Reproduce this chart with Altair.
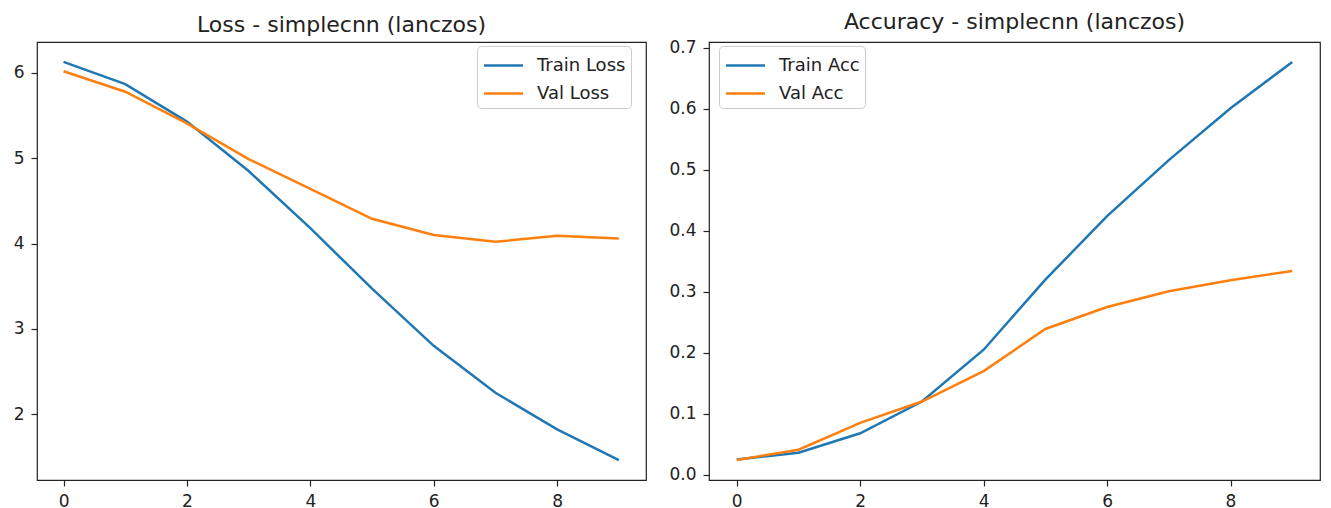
import altair as alt
import pandas as pd

epochs = list(range(10))
train_loss = [6.13, 5.87, 5.43, 4.85, 4.18, 3.47, 2.80, 2.25, 1.82, 1.46]
val_loss = [6.02, 5.78, 5.41, 4.99, 4.64, 4.29, 4.10, 4.02, 4.09, 4.06]
train_acc = [0.025, 0.036, 0.068, 0.120, 0.205, 0.320, 0.424, 0.516, 0.601, 0.677]
val_acc = [0.024, 0.041, 0.085, 0.120, 0.170, 0.239, 0.275, 0.301, 0.319, 0.334]

loss_names = ["Train Loss", "Val Loss"]
acc_names = ["Train Acc", "Val Acc"]
colors = ["#1f77b4", "#ff7f0e"]
x_ticks = [0, 2, 4, 6, 8]
loss_ticks = [2, 3, 4, 5, 6]
acc_ticks = [0.0, 0.1, 0.2, 0.3, 0.4, 0.5, 0.6, 0.7]

loss_df = pd.DataFrame({
    "epoch": epochs * 2,
    "value": train_loss + val_loss,
    "series": [loss_names[0]] * 10 + [loss_names[1]] * 10,
})
acc_df = pd.DataFrame({
    "epoch": epochs * 2,
    "value": train_acc + val_acc,
    "series": [acc_names[0]] * 10 + [acc_names[1]] * 10,
})

H = 438
FONT = "DejaVu Sans"


def legend(x, y):
    return alt.Legend(
        title=None, orient="none", legendX=x, legendY=y,
        symbolType="M-1.5,0H1.5", symbolSize=676, symbolStrokeWidth=2.5,
        symbolOffset=7,
        labelFontSize=18, labelFont=FONT, labelColor="#222222",
        fillColor="rgba(255,255,255,0.8)", strokeColor="#cccccc",
        cornerRadius=4, padding=5, rowPadding=4, labelOffset=19,
    )


def panel(df, names, title, width, xdomain, yticks, ydomain, yfmt, leg):
    return alt.Chart(df, title=alt.TitleParams(
        title, fontSize=22, font=FONT, fontWeight="normal", color="#222222",
        offset=5, anchor="middle")).mark_line(strokeWidth=2.5).encode(
        x=alt.X("epoch:Q", scale=alt.Scale(domain=xdomain, nice=False, zero=False),
                axis=alt.Axis(values=x_ticks, title=None, format="d")),
        y=alt.Y("value:Q", scale=alt.Scale(domain=ydomain, nice=False, zero=False),
                axis=alt.Axis(values=yticks, title=None, format=yfmt)),
        color=alt.Color("series:N", scale=alt.Scale(domain=names, range=colors),
                        legend=leg),
    ).properties(width=width, height=H)


left = panel(loss_df, loss_names, "Loss - simplecnn (lanczos)", 609, [-0.43, 9.44],
             loss_ticks, [1.2265, 6.3635], "d", legend(440, 4))
right = panel(acc_df, acc_names, "Accuracy - simplecnn (lanczos)", 611, [-0.45, 9.45],
              acc_ticks, [-0.00865, 0.70965], ".1f", legend(10, 4))

chart = alt.hconcat(left, right, spacing=21).resolve_scale(color="independent").properties(
    padding={"left": 12, "top": 10, "right": 0, "bottom": 0},
    background="white",
).configure_view(stroke="#222222", strokeWidth=1.2).configure_axis(
    grid=False, domain=False, tickColor="#222222", tickSize=6, tickWidth=1.2,
    labelFont=FONT, labelFontSize=17, labelColor="#222222", labelPadding=7,
)

chart.save("out.html", embed_options={"renderer": "svg", "actions": False})
